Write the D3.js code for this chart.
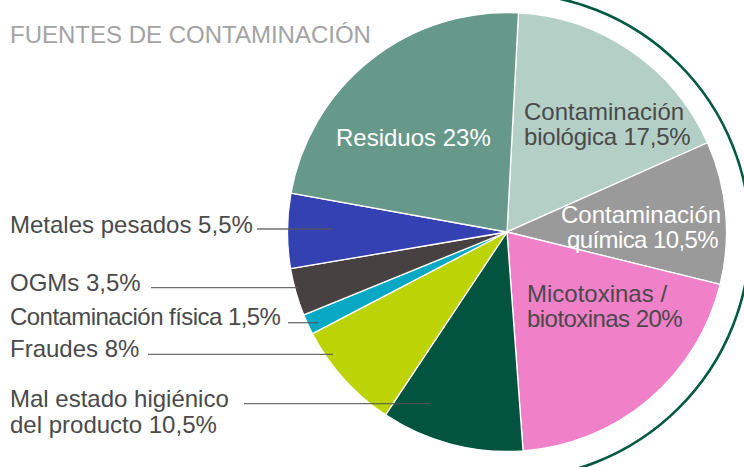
<!DOCTYPE html>
<html>
<head>
<meta charset="utf-8">
<script src="https://cdn.jsdelivr.net/npm/d3@7"></script>
<style>
  html, body { margin: 0; padding: 0; background: #fff; }
  svg { display: block; }
  text { font-family: "Liberation Sans", Arial, sans-serif; }
</style>
</head>
<body>
<svg id="chart" width="744" height="467"></svg>
<script>
// ---- data ----
const title = "FUENTES DE CONTAMINACIÓN";
const categories = [
  "Contaminación biológica",
  "Contaminación química",
  "Micotoxinas / biotoxinas",
  "Mal estado higiénico del producto",
  "Fraudes",
  "Contaminación física",
  "OGMs",
  "Metales pesados",
  "Residuos"
];
const values = [17.5, 10.5, 20, 10.5, 8, 1.5, 3.5, 5.5, 23];
const labelLines = [
  ["Contaminación", "biológica 17,5%"],
  ["Contaminación", "química 10,5%"],
  ["Micotoxinas /", "biotoxinas 20%"],
  ["Mal estado higiénico", "del producto 10,5%"],
  ["Fraudes 8%"],
  ["Contaminación física 1,5%"],
  ["OGMs 3,5%"],
  ["Metales pesados 5,5%"],
  ["Residuos 23%"]
];

// ---- styles / layout ----
const colors = ["#b3cfc6", "#9a9a9a", "#f080c8", "#03543f", "#bcd405", "#07a8c3", "#474241", "#3441b3", "#67998a"];
const labelColors = ["#4a4a4a", "#ffffff", "#4a4a4a", "#4a4a4a", "#4a4a4a", "#4a4a4a", "#4a4a4a", "#4a4a4a", "#ffffff"];
// per label: x of each line start, baseline y of first line, line spacing, per-line letter spacing; optional leader [x1, x2, y]
const labelLayout = [
  { xs: [524, 524], y: 120, dy: 25, ls: [0, -0.2] },
  { xs: [561, 567], y: 223, dy: 25, ls: [0, -0.6] },
  { xs: [527, 527], y: 302, dy: 25, ls: [0, -0.55] },
  { xs: [10, 10], y: 407, dy: 25.5, ls: [0, 0], leader: [244, 430, 403.7] },
  { xs: [10], y: 357, ls: [0], leader: [148, 333, 354.3] },
  { xs: [10], y: 325, ls: [-0.55], leader: [288, 318, 322.7] },
  { xs: [10], y: 291, ls: [0], leader: [151, 298, 287.7] },
  { xs: [10], y: 233, ls: [0], leader: [257, 333, 229] },
  { xs: [336], y: 146, ls: [0] }
];

const cx = 507, cy = 232, R = 219.5;
const startDeg = 3;

const svg = d3.select("#chart");

// outer decorative ring arc
const ring = d3.arc()
  .innerRadius(243)
  .outerRadius(243)
  .startAngle(0)
  .endAngle(Math.PI);
svg.append("path")
  .attr("transform", `translate(${cx},${cy + 4})`)
  .attr("d", ring())
  .attr("fill", "none")
  .attr("stroke", "#005a40")
  .attr("stroke-width", 2.6);

// pie
const pie = d3.pie()
  .sort(null)
  .value(d => d)
  .startAngle(startDeg * Math.PI / 180)
  .endAngle(startDeg * Math.PI / 180 + 2 * Math.PI);
const arc = d3.arc().innerRadius(0).outerRadius(R);

const g = svg.append("g").attr("transform", `translate(${cx},${cy})`);
g.selectAll("path.slice")
  .data(pie(values))
  .join("path")
  .attr("class", "slice")
  .attr("d", arc)
  .attr("fill", (d, i) => colors[i])
  .attr("stroke", "#ffffff")
  .attr("stroke-width", 1.3)
  .attr("stroke-linejoin", "round");

// leader lines
labelLayout.forEach((L, i) => {
  if (!L.leader) return;
  svg.append("line")
    .attr("x1", L.leader[0]).attr("x2", L.leader[1])
    .attr("y1", L.leader[2]).attr("y2", L.leader[2])
    .attr("stroke", "#555")
    .attr("stroke-opacity", 0.85)
    .attr("stroke-width", 1.3);
});

// labels
labelLines.forEach((lines, i) => {
  const L = labelLayout[i];
  const t = svg.append("text")
    .attr("font-size", 24)
    .attr("fill", labelColors[i]);
  lines.forEach((ln, j) => {
    t.append("tspan")
      .attr("x", L.xs[j])
      .attr("y", L.y + j * (L.dy || 0))
      .attr("letter-spacing", L.ls[j])
      .text(ln);
  });
});

// title
svg.append("text")
  .attr("x", 10)
  .attr("y", 43)
  .attr("font-size", 24)
  .attr("fill", "#a3a3a3")
  .text(title);
</script>
</body>
</html>
